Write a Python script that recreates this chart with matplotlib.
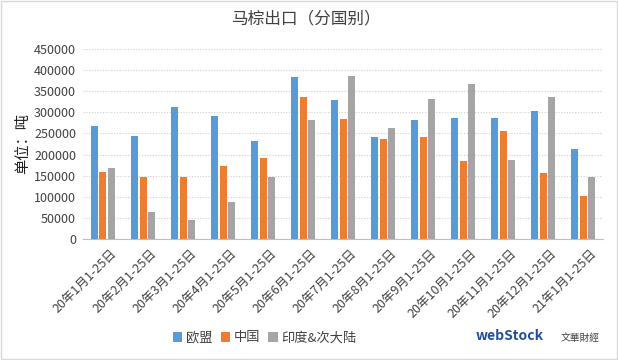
import numpy as np
import matplotlib
matplotlib.use("Agg")
from matplotlib import pyplot as plt
from matplotlib import transforms
from matplotlib.patches import Rectangle

plt.rcParams['font.family'] = ['Noto Sans CJK SC', 'DejaVu Sans']

# data (tonnes)
months = ["20年1月1-25日", "20年2月1-25日", "20年3月1-25日", "20年4月1-25日",
          "20年5月1-25日", "20年6月1-25日", "20年7月1-25日", "20年8月1-25日",
          "20年9月1-25日", "20年10月1-25日", "20年11月1-25日", "20年12月1-25日",
          "21年1月1-25日"]
eu = [268000, 243000, 313000, 292000, 233000, 384000, 329000, 242000,
      282000, 287000, 287000, 303000, 214000]
china = [159000, 148000, 146000, 172000, 193000, 337000, 285000, 238000,
         242000, 185000, 256000, 157000, 102000]
india = [169000, 65000, 44000, 87000, 148000, 281000, 386000, 263000,
         332000, 367000, 188000, 336000, 147000]
series_names = ["欧盟", "中国", "印度&次大陆"]
colors = ["#5B9BD5", "#ED7D31", "#A5A5A5"]

fig = plt.figure(figsize=(6.18, 3.6), dpi=100)
ax = fig.add_axes([83 / 618, 1 - 239 / 360, 520 / 618, 190 / 360])

x = np.arange(len(months))
width = 0.175
offset = 0.21
for i, vals in enumerate([eu, china, india]):
    ax.bar(x + (i - 1) * offset, vals, width, color=colors[i],
           label=series_names[i], zorder=3)

ax.set_xlim(-0.5, len(months) - 0.5)
ax.set_ylim(0, 450000)
ax.set_yticks(np.arange(0, 450001, 50000))
ax.yaxis.grid(True, linestyle=(0, (1, 1.5)), color="#D0D0D0", linewidth=0.8)
ax.tick_params(axis="y", length=0, labelsize=9, colors="#404040", pad=5)
ax.tick_params(axis="x", length=0, labelsize=9, colors="#404040", pad=6)
ax.set_xticks(x)
ax.set_xticklabels(months, rotation=45, ha="right", rotation_mode="anchor")
# shift the rotated labels a bit to the right, like excel does
shift = transforms.ScaledTranslation(7 / 100, 0, fig.dpi_scale_trans)
for lbl in ax.get_xticklabels():
    lbl.set_transform(lbl.get_transform() + shift)
for s in ["top", "right", "left"]:
    ax.spines[s].set_visible(False)
ax.spines["bottom"].set_color("#BFBFBF")

ax.set_ylabel("单位：吨", fontsize=11, color="#202020")
ax.yaxis.set_label_coords((31 - 83) / 520, 0.5)
fig.text(0.495, 1 - 19 / 360, "马棕出口（分国别）", ha="center", va="center",
         fontsize=12, color="#404040")

fig.legend(loc="center", bbox_to_anchor=(265 / 618, 1 - 338 / 360), ncol=3,
           frameon=False, fontsize=9.5, handlelength=0.7, handleheight=0.7,
           handletextpad=0.3, columnspacing=0.6, labelcolor="#404040")

# watermark logo text
fig.text(510 / 618, 1 - 336 / 360, "webStock", ha="center", va="center",
         fontsize=10, color="#1F4E9C", fontweight="bold")
fig.text(580 / 618, 1 - 338 / 360, "文華財經", ha="center", va="center",
         fontsize=7, color="#404040")

# light border around the figure
fig.patches.append(Rectangle((0.002, 0.002), 0.996, 0.994, transform=fig.transFigure,
                             fill=False, edgecolor="#D9D9D9", linewidth=1))

fig.savefig("out.png", dpi=100, facecolor="white")
